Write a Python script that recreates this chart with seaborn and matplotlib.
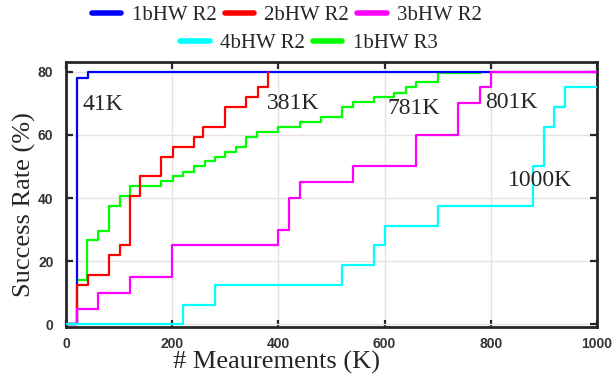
import numpy as np
import pandas as pd
import matplotlib
matplotlib.use("Agg")
import matplotlib.pyplot as plt
import seaborn as sns

# step curves, x in K measurements, y in success rate (%)
x_1b_r2 = [0, 20, 41, 1000]
y_1b_r2 = [0, 78, 80, 80]

x_2b_r2 = [0, 20, 41, 81, 101, 120, 140, 179, 201, 241, 259, 300, 339, 361, 381]
y_2b_r2 = [0, 12.5, 15.6, 21.9, 25, 40.6, 46.9, 53.1, 56.3, 59.4, 62.5, 68.8, 71.9, 75, 80]

x_3b_r2 = [0, 20, 60, 120, 200, 400, 420, 440, 541, 659, 739, 780, 801, 1000]
y_3b_r2 = [0, 5, 10, 15, 25, 30, 40, 45, 50, 60, 70, 75, 80, 80]

x_4b_r2 = [0, 220, 280, 520, 580, 600, 700, 880, 900, 920, 940, 1000]
y_4b_r2 = [0, 6.25, 12.5, 18.75, 25, 31.25, 37.5, 50, 62.5, 68.75, 75, 75]

x_1b_r3 = [0, 20, 40, 60, 81, 101, 120, 179, 201, 220, 241, 261, 280, 300, 320,
           339, 360, 400, 441, 480, 520, 541, 580, 618, 640, 660, 700, 781]
y_1b_r3 = [0, 14.1, 26.6, 29.7, 37.5, 40.6, 43.8, 45.3, 46.9, 48.4, 50, 51.6, 53.1,
           54.7, 56.3, 59.4, 60.9, 62.5, 64.1, 65.6, 68.8, 70.3, 71.9, 73.4, 75, 76.6, 79.6, 79.6]

series_names = ["1bHW R2", "2bHW R2", "3bHW R2", "4bHW R2", "1bHW R3"]
series_x = [x_1b_r2, x_2b_r2, x_3b_r2, x_4b_r2, x_1b_r3]
series_y = [y_1b_r2, y_2b_r2, y_3b_r2, y_4b_r2, y_1b_r3]
colors = ["#0000ff", "#ff0000", "#ff00ff", "#00ffff", "#00ff00"]
zorders = [3, 4, 5, 6, 2]

labels_txt = ["41K", "381K", "781K", "801K", "1000K"]
labels_x = [31, 378, 605, 790, 833]
labels_y = [69.7, 70, 68.3, 70.2, 45.6]

sns.set_style("whitegrid")
plt.rcParams["font.family"] = ["Liberation Serif", "DejaVu Serif"]

fig = plt.figure(figsize=(6.16, 3.82), dpi=100)
ax = fig.add_axes([0.107, 0.144, 0.862, 0.694])

handles = []
for name, xs, ys, c, z in zip(series_names, series_x, series_y, colors, zorders):
    df = pd.DataFrame({"x": xs, "y": ys})
    sns.lineplot(data=df, x="x", y="y", drawstyle="steps-post", color=c,
                 lw=1.6, ax=ax, zorder=z, legend=False)
    handles.append(plt.Line2D([], [], color=c, lw=4, solid_capstyle="round"))

for t, tx, ty in zip(labels_txt, labels_x, labels_y):
    ax.text(tx, ty, t, fontsize=17, ha="left", va="center", zorder=10)

ax.set_xlim(0, 1000)
ax.set_ylim(-0.8, 83.1)
ax.set_xticks([0, 200, 400, 600, 800, 1000])
ax.set_yticks([0, 20, 40, 60, 80])
ax.grid(True, color="#e3e3e3", lw=1)

for s in ax.spines.values():
    s.set_color("#262626")
    s.set_linewidth(2)
ax.tick_params(direction="in", length=5, width=1.6, color="#262626",
               top=True, right=True, bottom=True, left=True)
ax.tick_params(axis="y", pad=9)
ax.tick_params(axis="x", pad=7)
for lab in ax.get_xticklabels() + ax.get_yticklabels():
    lab.set_fontfamily("Liberation Sans")
    lab.set_fontweight("bold")
    lab.set_fontsize(10)
    lab.set_color("#333333")

ax.set_xlabel("# Meaurements (K)", fontsize=19)
ax.set_ylabel("Success Rate (%)", fontsize=19)
ax.xaxis.set_label_coords(0.397, -0.132)
ax.xaxis.label.set_va("center")
ax.yaxis.set_label_coords(-0.079, 0.46)
ax.yaxis.label.set_va("center")

leg_kw = dict(frameon=False, fontsize=15, handlelength=1.4, handletextpad=0.5,
              columnspacing=0.4, borderpad=0, borderaxespad=0)
fig.legend(handles[:3], series_names[:3], loc="center", ncol=3,
           bbox_to_anchor=(287 / 616, 1 - 15 / 382), **leg_kw)
fig.legend(handles[3:], series_names[3:], loc="center", ncol=2,
           bbox_to_anchor=(309 / 616, 1 - 43 / 382), **leg_kw)

fig.savefig("out.png", dpi=100)
